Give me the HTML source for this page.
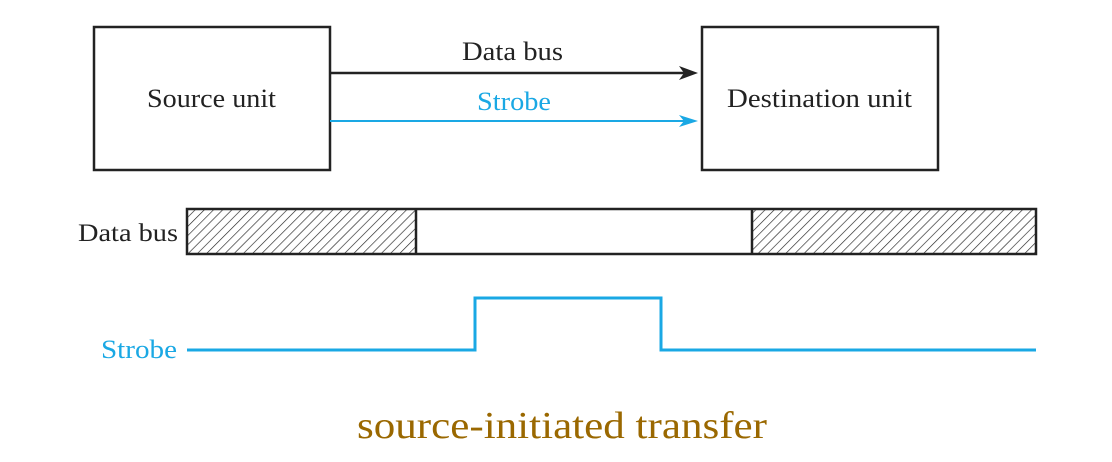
<!DOCTYPE html>
<html><head><meta charset="utf-8"><style>body{margin:0;background:#fff}svg{display:block}</style></head>
<body>
<svg width="1112" height="462" viewBox="0 0 1112 462" xmlns="http://www.w3.org/2000/svg" font-family="Liberation Serif, serif">
<defs>
<pattern id="h" patternUnits="userSpaceOnUse" width="6.5" height="6.5" patternTransform="rotate(45)">
<line x1="0" y1="0" x2="0" y2="6.5" stroke="#222" stroke-width="1.3"/>
</pattern>
</defs>
<rect x="94" y="27" width="236" height="143" fill="none" stroke="#222" stroke-width="2.5"/>
<rect x="702" y="27" width="236" height="143" fill="none" stroke="#222" stroke-width="2.5"/>
<text x="147" y="107" font-size="26" textLength="129" lengthAdjust="spacingAndGlyphs" fill="#222">Source unit</text>
<text x="727" y="107" font-size="26" textLength="185" lengthAdjust="spacingAndGlyphs" fill="#222">Destination unit</text>
<line x1="330" y1="73" x2="688" y2="73" stroke="#222" stroke-width="2.5"/>
<polygon points="698,73 679,66 684,73 679,80" fill="#222"/>
<text x="462" y="60" font-size="26" textLength="101" lengthAdjust="spacingAndGlyphs" fill="#222">Data bus</text>
<line x1="330" y1="121" x2="688" y2="121" stroke="#1aa8e4" stroke-width="2"/>
<polygon points="698,121 679,115 684,121 679,127" fill="#1aa8e4"/>
<text x="477" y="110" font-size="26" textLength="74" lengthAdjust="spacingAndGlyphs" fill="#1aa8e4">Strobe</text>
<rect x="187" y="209" width="229" height="45" fill="url(#h)"/>
<rect x="752" y="209" width="284" height="45" fill="url(#h)"/>
<rect x="187" y="209" width="849" height="45" fill="none" stroke="#222" stroke-width="2.5"/>
<line x1="416" y1="209" x2="416" y2="254" stroke="#222" stroke-width="2.5"/>
<line x1="752" y1="209" x2="752" y2="254" stroke="#222" stroke-width="2.5"/>
<text x="78" y="241" font-size="25" textLength="100" lengthAdjust="spacingAndGlyphs" fill="#222">Data bus</text>
<polyline points="187,350 475,350 475,298 661,298 661,350 1036,350" fill="none" stroke="#1aa8e4" stroke-width="3"/>
<text x="101" y="358" font-size="26" textLength="76" lengthAdjust="spacingAndGlyphs" fill="#1aa8e4">Strobe</text>
<text x="357" y="438" font-size="38" textLength="410" lengthAdjust="spacingAndGlyphs" fill="#9a6800">source-initiated transfer</text>
</svg>
</body></html>
